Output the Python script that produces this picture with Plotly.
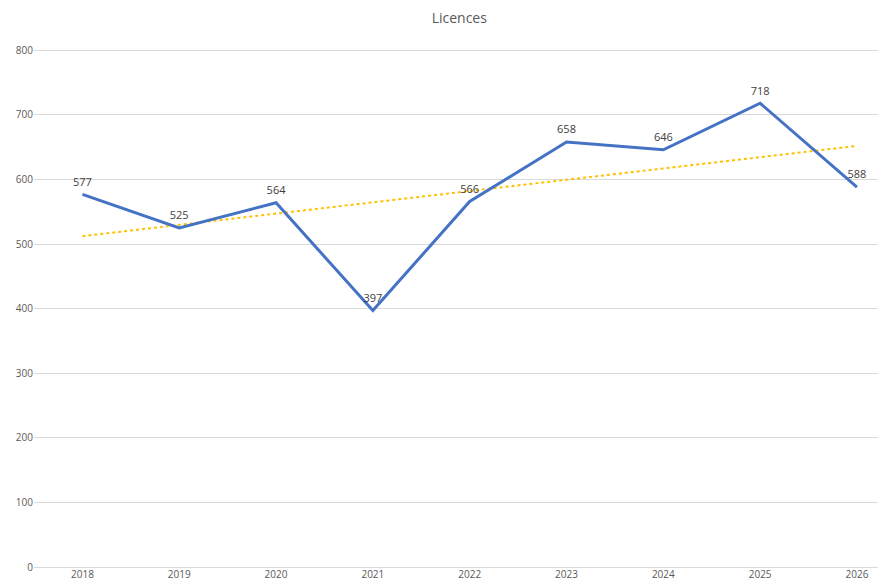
import numpy as np
import plotly.graph_objects as go

years = ["2018", "2019", "2020", "2021", "2022", "2023", "2024", "2025", "2026"]
licences = [577, 525, 564, 397, 566, 658, 646, 718, 588]
y_ticks = [0, 100, 200, 300, 400, 500, 600, 700, 800]

idx = np.arange(len(years))
slope, intercept = np.polyfit(idx, licences, 1)
trend = slope * idx + intercept

fig = go.Figure()
fig.add_trace(go.Scatter(
    x=years, y=trend, mode="lines",
    line=dict(color="#FFC000", width=2, dash="dot"),
    hoverinfo="skip", showlegend=False))
fig.add_trace(go.Scatter(
    x=years, y=licences, mode="lines+markers+text",
    text=[str(v) for v in licences], textposition="top center",
    textfont=dict(family="Open Sans", size=11, color="#404040"),
    marker=dict(size=8, color="rgba(0,0,0,0)"),
    line=dict(color="#4472C4", width=3),
    showlegend=False))

fig.update_layout(
    width=878, height=577,
    margin=dict(l=26, r=0, t=41, b=18),
    plot_bgcolor="white", paper_bgcolor="white",
    title=dict(text="Licences", x=0.514, xanchor="center", y=0.982, yanchor="middle",
               font=dict(family="Open Sans", size=14, color="#595959")),
    font=dict(family="Open Sans", size=10, color="#595959"),
)
fig.update_xaxes(type="category", range=[-0.5, 8.3], showgrid=False,
                 showline=False, ticks="", tickfont=dict(size=10, color="#595959"))
fig.update_yaxes(range=[0, 802], tickvals=y_ticks, showgrid=True, gridcolor="#D9D9D9",
                 gridwidth=1, zeroline=True, zerolinecolor="#D9D9D9", zerolinewidth=1,
                 ticks="", tickfont=dict(size=10, color="#595959"))

fig.write_html("out.html")
